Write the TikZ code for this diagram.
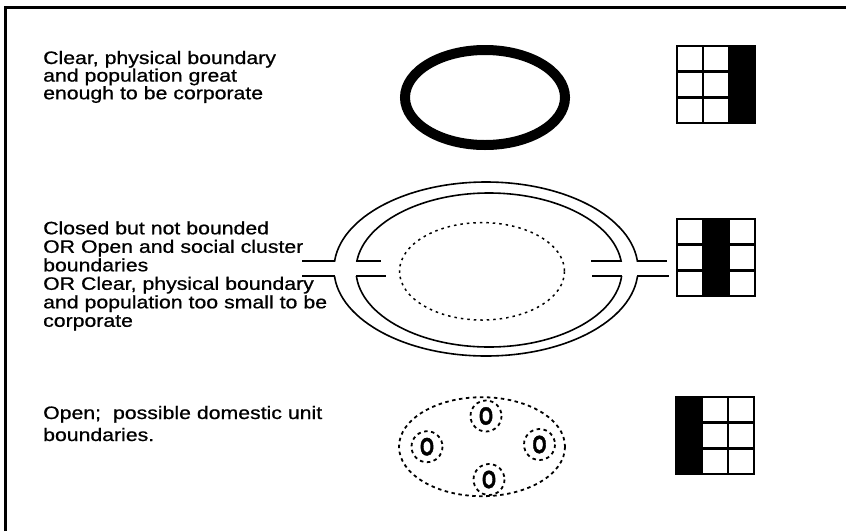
\documentclass[tikz,border=0pt]{standalone}
\usepackage{fontspec}
\setmainfont{Liberation Sans}[FakeStretch=1.18, FakeBold=0.8]
\newfontfamily\ofont{Liberation Sans Bold}[FakeStretch=0.72, FakeBold=1.5]
\tikzset{
  lbl/.style={anchor=base west, inner sep=0pt, align=left, text width=320pt},
  frameline/.style={line width=3pt},
  gridline/.style={line width=2.6pt},
  thinline/.style={line width=1.6pt},
  stubline/.style={line width=2.8pt},
  dotline/.style={line width=1.5pt, dash pattern=on 2.5pt off 4pt},
  dashline/.style={line width=1.8pt, dash pattern=on 3.5pt off 3.5pt},
  letter/.style={inner sep=0pt, font=\ofont\fontsize{25}{25}\selectfont},
  pics/gridbox/.style={code={
    \fill (#1*26-26,0) rectangle ++(26,77);
    \draw[gridline] (0,0) rectangle (78,77);
    \draw[gridline] (26,0)--(26,77) (52,0)--(52,77) (0,25.67)--(78,25.67) (0,51.33)--(78,51.33);
  }}
}
\begin{document}
\begin{tikzpicture}[x=1pt,y=-1pt]
\useasboundingbox (0,0) rectangle (846,531);
% frame
\draw[frameline] (5.8,531) -- (5.8,7.7) -- (846,7.7);

% texts
\node[lbl, font=\fontsize{18}{17.6}\selectfont] (t1) at (43,64)
  {Clear, physical boundary\\and population great\\enough to be corporate};
\node[lbl, font=\fontsize{18}{18.5}\selectfont] (t2) at (43,234.3)
  {Closed but not bounded\\OR Open and social cluster\\boundaries\\OR Clear, physical boundary\\and population too small to be\\corporate};
\node[lbl, font=\fontsize{18}{22}\selectfont] (t3) at (43,419)
  {Open;~ possible domestic unit\\boundaries.};

% row 1
\draw[line width=10pt] (485,97.5) ellipse [x radius=80, y radius=47.5];
\pic at (677,46) {gridbox=3};

% row 2
\begin{scope}
  \clip (0,0) rectangle (846,261);
  \draw[thinline] (486,269) ellipse [x radius=152, y radius=87];
  \draw[thinline] (489,270) ellipse [x radius=133, y radius=77];
\end{scope}
\begin{scope}
  \clip (0,276) rectangle (846,531);
  \draw[thinline] (486,269) ellipse [x radius=152, y radius=87];
  \draw[thinline] (489,270) ellipse [x radius=133, y radius=77];
\end{scope}
\draw[stubline] (302,261) -- (335,261) (302,276) -- (335,276);
\draw[stubline] (356,261) -- (381,261) (356,276) -- (386,276);
\draw[stubline] (591,261) -- (621,261) (592,276) -- (622,276);
\draw[stubline] (637,261) -- (667,261) (637,276) -- (669,276);
\draw[dotline] (482,271.3) ellipse [x radius=82.5, y radius=48.7];
\pic at (677,219) {gridbox=2};

% row 3
\draw[dashline] (482,446.7) ellipse [x radius=83, y radius=49.5];
\foreach \n/\cx/\cy in {a/486/416, b/427/446.7, c/539.5/444.5, d/489/479.5} {
  \draw[dashline, fill=white] (\cx,\cy) circle [radius=15.5];
  \node[letter] (o\n) at (\cx,\cy) {O};
}
\pic at (676,397) {gridbox=1};
\end{tikzpicture}
\end{document}
